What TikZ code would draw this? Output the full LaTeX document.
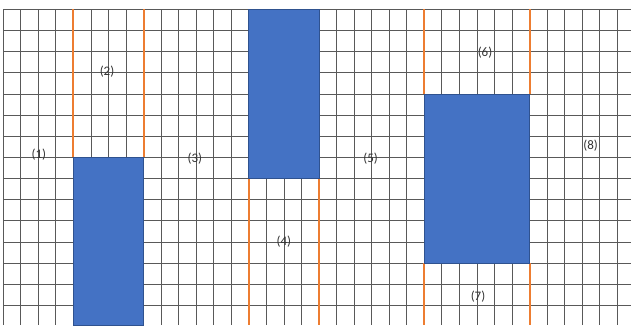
\documentclass[tikz,border=0pt]{standalone}
\usepackage{fontspec}
\setmainfont{Carlito}
\usepackage{xcolor}
\usepackage{tikz}
\usetikzlibrary{positioning}

\definecolor{blockblue}{HTML}{4472C4}
\definecolor{blockedge}{HTML}{2F528F}
\definecolor{markorange}{HTML}{ED7D31}

\begin{document}
\begin{tikzpicture}[
    x=17.55pt, y=-21.15pt,
    gridline/.style={draw=black!65, line width=0.7pt},
    block/.style={draw=blockedge, fill=blockblue, line width=0.7pt},
    bound/.style={draw=markorange, line width=2pt},
    lbl/.style={inner sep=0pt, font=\fontsize{13}{15}\selectfont, text=black!80}
]
    \useasboundingbox (-0.18,-0.44) rectangle (35.78,14.93);

    % grid
    \foreach \i in {0,...,35}
        \draw [gridline] (\i,0) -- (\i,14.93);
    \foreach \j in {0,...,14}
        \draw [gridline] (0,\j) -- (35.78,\j);

    % orange bounds
    \foreach \x/\ya/\yb in {4/0/7, 8/0/7, 14/8/14.93, 18/8/14.93,
                            24/0/4, 30/0/4, 24/12/14.93, 30/12/14.93}
        \draw [bound] (\x,\ya) -- (\x,\yb);

    % blocks
    \draw [block] (4,7) rectangle (8,14.93);
    \draw [block] (14,0) rectangle (18,8);
    \draw [block] (24,4) rectangle (30,12);

    % region labels
    \node [lbl] (r1) at (2.04,6.89) {(1)};
    \node [lbl] (r2) at (5.92,2.96) {(2)};
    \node [lbl] (r3) at (10.93,7.05) {(3)};
    \node [lbl] (r4) at (16.0,11.0) {(4)};
    \node [lbl] (r5) at (20.94,7.08) {(5)};
    \node [lbl] (r6) at (27.46,2.07) {(6)};
    \node [lbl] (r7) at (27.06,13.6) {(7)};
    \node [lbl] (r8) at (33.48,6.46) {(8)};
\end{tikzpicture}
\end{document}
